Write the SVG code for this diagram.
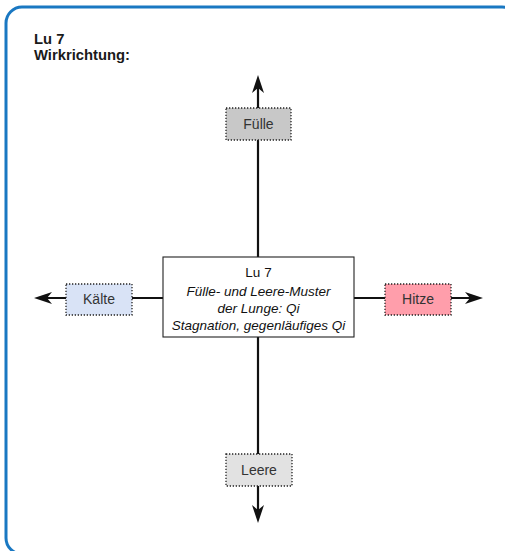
<svg xmlns="http://www.w3.org/2000/svg" width="505" height="551" viewBox="0 0 505 551">
<style>
.frame{fill:none;stroke:#1a78c2;stroke-width:3}
.title{font-family:"Liberation Sans",Arial,sans-serif;font-weight:bold;font-size:14.8px;fill:#1a1a1a}
.ax{stroke:#111;stroke-width:2.2;fill:none}
.tag{stroke:#222;stroke-width:1.3;stroke-dasharray:1.3 1.7}
.lbl{font-family:"Liberation Sans",Arial,sans-serif;font-size:14px;fill:#333;text-anchor:middle}
.ctr{font-family:"Liberation Sans",Arial,sans-serif;font-size:13.5px;fill:#111;text-anchor:middle}
.it{font-style:italic}
</style>
<defs>
<marker id="ah" viewBox="0 0 18 12" refX="8" refY="6" markerWidth="18" markerHeight="12" markerUnits="userSpaceOnUse" orient="auto">
<path d="M0,0 L18,6 L0,12 L5,6 Z" fill="#111"/>
</marker>
</defs>
<rect class="frame" x="6" y="7" width="512" height="547" rx="16"/>
<text class="title" x="34" y="44">Lu 7</text>
<text class="title" x="34" y="60">Wirkrichtung:</text>
<g id="connectors">
<line class="ax" x1="258" y1="257" x2="258" y2="85" marker-end="url(#ah)"/>
<line class="ax" x1="258" y1="337" x2="258" y2="513" marker-end="url(#ah)"/>
<line class="ax" x1="163" y1="298" x2="44" y2="298" marker-end="url(#ah)"/>
<line class="ax" x1="354" y1="298" x2="473" y2="298" marker-end="url(#ah)"/>
</g>
<g id="center">
<rect x="163" y="257" width="191" height="80" fill="#fff" stroke="#222" stroke-width="1.1"/>
<text class="ctr" x="258.5" y="277">Lu 7</text>
<text class="ctr it" x="258.5" y="296">Fülle- und Leere-Muster</text>
<text class="ctr it" x="258.5" y="313">der Lunge: Qi</text>
<text class="ctr it" x="258.5" y="330">Stagnation, gegenläufiges Qi</text>
</g>
<g id="fuelle">
<rect class="tag" x="226" y="108" width="65" height="32" fill="#c8c8c8"/>
<text class="lbl" x="258.5" y="129">Fülle</text>
</g>
<g id="leere">
<rect class="tag" x="226" y="454" width="66" height="32" fill="#e2e2e2"/>
<text class="lbl" x="259" y="475">Leere</text>
</g>
<g id="kaelte">
<rect class="tag" x="66" y="284" width="66" height="31" fill="#d9e3f6"/>
<text class="lbl" x="99" y="304">Kälte</text>
</g>
<g id="hitze">
<rect class="tag" x="385" y="284" width="66" height="31" fill="#ff9eab"/>
<text class="lbl" x="418" y="304">Hitze</text>
</g>
</svg>
